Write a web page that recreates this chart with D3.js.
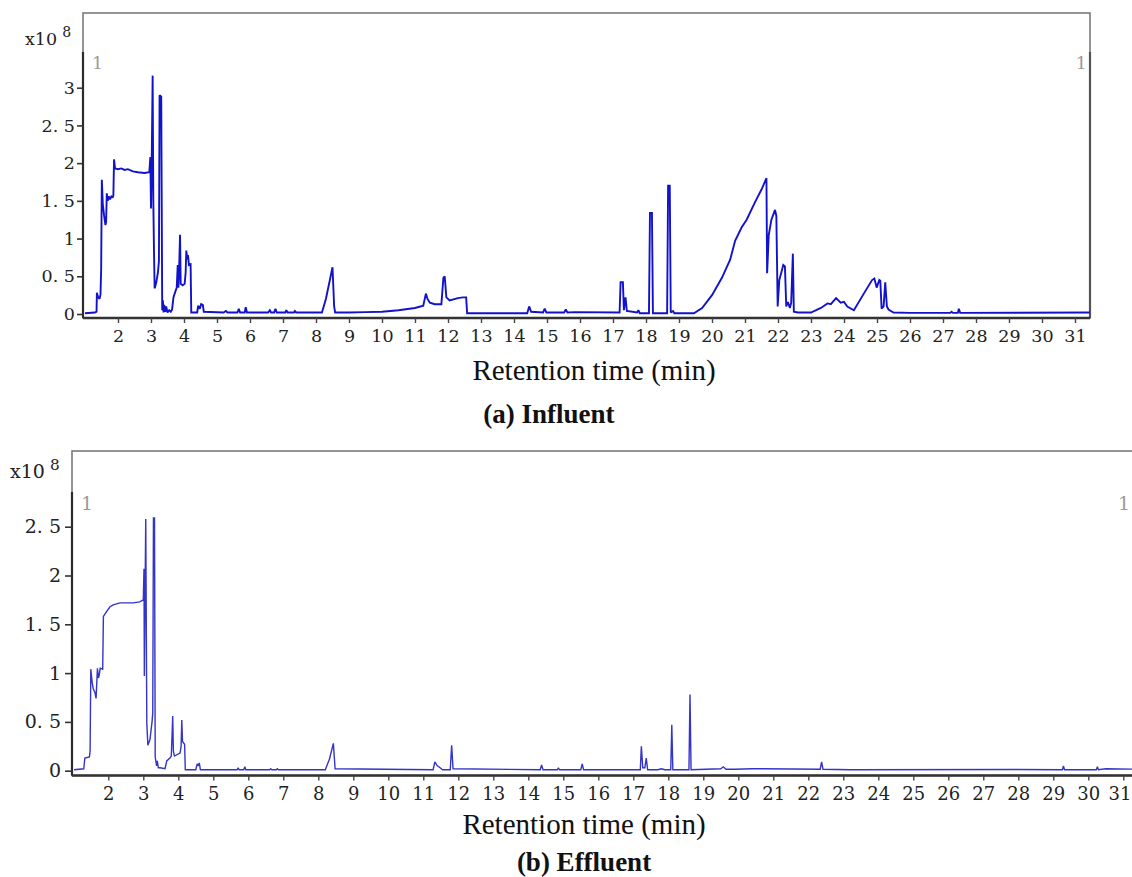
<!DOCTYPE html>
<html>
<head>
<meta charset="utf-8">
<script src="https://cdn.jsdelivr.net/npm/d3@7"></script>
<style>
  html, body { margin: 0; padding: 0; background: #fff; }
  svg { display: block; }
</style>
</head>
<body>
<svg id="chart" width="1132" height="877"></svg>
<script>
// Total ion chromatograms, abundance in units of 1e8, retention time in minutes.

const influentTime = [
  1.00, 1.30, 1.35, 1.36, 1.40, 1.44, 1.47, 1.49, 1.51, 1.54, 1.58, 1.62, 1.64, 1.66, 1.69, 1.72, 1.76, 1.80, 1.84, 1.86,
  1.88, 1.91, 2.00, 2.10, 2.20, 2.30, 2.45, 2.60, 2.80, 2.95, 2.98, 3.00, 3.02, 3.05, 3.07, 3.09, 3.11, 3.12, 3.16, 3.21,
  3.24, 3.26, 3.31, 3.34, 3.36, 3.38, 3.40, 3.43, 3.46, 3.50, 3.55, 3.60, 3.64, 3.68, 3.74, 3.78, 3.81, 3.83, 3.86, 3.88,
  3.90, 3.96, 4.02, 4.05, 4.07, 4.10, 4.12, 4.15, 4.20, 4.22, 4.40, 4.43, 4.48, 4.52, 4.57, 4.60, 5.20, 5.27, 5.32, 5.62,
  5.66, 5.70, 5.84, 5.87, 5.91, 6.55, 6.60, 6.64, 6.73, 6.77, 6.81, 7.07, 7.10, 7.14, 7.33, 7.36, 7.40, 8.18, 8.30, 8.42,
  8.50, 8.55, 8.58, 9.00, 9.50, 10.00, 10.50, 11.00, 11.25, 11.33, 11.38, 11.45, 11.60, 11.80, 11.86, 11.90, 11.95, 12.05, 12.30, 12.45,
  12.55, 12.58, 13.00, 14.40, 14.46, 14.52, 14.88, 14.93, 14.98, 15.52, 15.57, 15.62, 15.85, 17.20, 17.23, 17.30, 17.33, 17.38, 17.42, 17.73,
  17.77, 17.81, 18.09, 18.12, 18.18, 18.21, 18.64, 18.67, 18.72, 18.75, 18.82, 18.86, 19.45, 19.70, 20.00, 20.30, 20.55, 20.70, 20.90, 21.05,
  21.30, 21.50, 21.65, 21.67, 21.72, 21.80, 21.91, 21.95, 21.99, 22.04, 22.16, 22.21, 22.25, 22.30, 22.36, 22.40, 22.45, 22.48, 22.60, 23.00,
  23.30, 23.50, 23.60, 23.76, 23.90, 24.00, 24.10, 24.30, 24.60, 24.85, 24.92, 24.99, 25.07, 25.10, 25.14, 25.20, 25.25, 25.30, 25.35, 25.50,
  26.00, 27.22, 27.26, 27.30, 27.45, 27.48, 27.52, 31.45
];
const influentSignal = [
  0.01, 0.02, 0.03, 0.28, 0.22, 0.20, 0.26, 0.60, 1.78, 1.45, 1.30, 1.18, 1.22, 1.60, 1.50, 1.56, 1.52, 1.56, 1.55, 1.57,
  2.05, 1.93, 1.92, 1.93, 1.91, 1.92, 1.89, 1.88, 1.87, 1.88, 2.08, 1.40, 1.95, 3.16, 1.50, 0.85, 0.35, 0.35, 0.42, 0.55,
  0.70, 2.90, 2.88, 0.05, 0.18, 0.02, 0.12, 0.03, 0.10, 0.02, 0.05, 0.03, 0.06, 0.22, 0.30, 0.35, 0.65, 0.35, 0.72, 1.05,
  0.40, 0.38, 0.40, 0.55, 0.84, 0.72, 0.78, 0.65, 0.66, 0.02, 0.02, 0.11, 0.07, 0.13, 0.12, 0.03, 0.02, 0.04, 0.02, 0.02,
  0.07, 0.02, 0.02, 0.09, 0.02, 0.02, 0.05, 0.02, 0.02, 0.07, 0.02, 0.02, 0.05, 0.02, 0.02, 0.04, 0.02, 0.02, 0.20, 0.45,
  0.62, 0.10, 0.02, 0.02, 0.025, 0.03, 0.05, 0.08, 0.11, 0.27, 0.20, 0.15, 0.13, 0.13, 0.48, 0.50, 0.22, 0.18, 0.21, 0.22,
  0.22, 0.01, 0.01, 0.01, 0.10, 0.03, 0.02, 0.07, 0.02, 0.02, 0.06, 0.02, 0.025, 0.02, 0.42, 0.42, 0.05, 0.22, 0.04, 0.02,
  0.05, 0.01, 0.01, 1.34, 1.34, 0.01, 0.01, 1.70, 1.70, 0.02, 0.04, 0.01, 0.01, 0.08, 0.25, 0.48, 0.72, 0.97, 1.15, 1.25,
  1.48, 1.65, 1.80, 0.54, 1.05, 1.25, 1.38, 1.30, 0.10, 0.45, 0.65, 0.63, 0.10, 0.16, 0.08, 0.15, 0.80, 0.03, 0.02, 0.02,
  0.08, 0.14, 0.13, 0.21, 0.15, 0.16, 0.10, 0.05, 0.27, 0.45, 0.47, 0.35, 0.45, 0.44, 0.07, 0.10, 0.42, 0.10, 0.06, 0.02,
  0.015, 0.015, 0.03, 0.015, 0.015, 0.07, 0.015, 0.02
];

const effluentTime = [
  1.02, 1.30, 1.33, 1.46, 1.48, 1.50, 1.54, 1.57, 1.62, 1.65, 1.69, 1.72, 1.74, 1.77, 1.84, 1.86, 1.95, 2.05, 2.14, 2.33,
  2.50, 2.71, 2.90, 3.00, 3.02, 3.03, 3.05, 3.07, 3.10, 3.13, 3.19, 3.25, 3.27, 3.29, 3.32, 3.34, 3.38, 3.40, 3.43, 3.48,
  3.62, 3.67, 3.76, 3.80, 3.83, 3.84, 3.86, 3.89, 4.05, 4.08, 4.10, 4.12, 4.18, 4.20, 4.50, 4.54, 4.57, 4.60, 4.63, 5.68,
  5.71, 5.74, 5.87, 5.90, 5.93, 6.61, 6.64, 6.67, 6.80, 6.83, 6.86, 8.20, 8.32, 8.43, 8.48, 11.28, 11.33, 11.40, 11.48, 11.55,
  11.77, 11.81, 11.85, 14.34, 14.38, 14.42, 14.83, 14.86, 14.89, 15.50, 15.54, 15.58, 17.20, 17.23, 17.27, 17.33, 17.37, 17.41, 17.70, 17.80,
  17.90, 18.07, 18.10, 18.13, 18.59, 18.62, 18.65, 19.50, 19.57, 19.65, 19.90, 20.40, 20.60, 22.34, 22.38, 22.42, 23.20, 27.90, 29.26, 29.29,
  29.32, 30.23, 30.26, 30.29, 30.50, 31.60
];
const effluentSignal = [
  0.01, 0.02, 0.13, 0.14, 0.20, 1.04, 0.90, 0.84, 0.80, 0.74, 1.05, 0.95, 0.98, 1.05, 1.04, 1.58, 1.63, 1.68, 1.70, 1.72,
  1.72, 1.72, 1.73, 1.75, 2.07, 0.97, 1.80, 2.58, 0.49, 0.26, 0.32, 0.50, 0.59, 2.59, 2.59, 0.14, 0.05, 0.10, 0.03, 0.03,
  0.02, 0.10, 0.13, 0.15, 0.45, 0.56, 0.20, 0.15, 0.18, 0.25, 0.52, 0.30, 0.27, 0.01, 0.01, 0.07, 0.05, 0.08, 0.01, 0.01,
  0.03, 0.01, 0.01, 0.04, 0.01, 0.01, 0.02, 0.01, 0.01, 0.02, 0.01, 0.01, 0.12, 0.28, 0.02, 0.01, 0.09, 0.05, 0.03, 0.01,
  0.01, 0.26, 0.02, 0.01, 0.06, 0.01, 0.01, 0.03, 0.01, 0.01, 0.07, 0.01, 0.01, 0.25, 0.03, 0.03, 0.13, 0.01, 0.01, 0.02,
  0.01, 0.01, 0.47, 0.01, 0.01, 0.78, 0.01, 0.02, 0.04, 0.015, 0.015, 0.02, 0.02, 0.015, 0.09, 0.015, 0.01, 0.012, 0.01, 0.05,
  0.01, 0.01, 0.04, 0.01, 0.02, 0.015
];

const timeTicks = d3.range(2, 32);                    // 2 … 31 min
const influentAbundanceTicks = [0, 0.5, 1, 1.5, 2, 2.5, 3];
const effluentAbundanceTicks = [0, 0.5, 1, 1.5, 2, 2.5];
const axisTitle = "Retention time (min)";
const panelTitles = ["(a) Influent", "(b) Effluent"];

// Abundance labels keep the instrument's "2. 5" style spacing.
const fmtAbundance = v => Number.isInteger(v) ? String(v) : v.toFixed(1).replace(".", ". ");

const W = 1132;
const svg = d3.select("#chart");

const panels = [
  {
    id: "inf", time: influentTime, signal: influentSignal, yTicks: influentAbundanceTicks,
    frame: { left: 83, top: 13, right: 1090, axis: 318, darkFrom: 52 },
    x: d3.scaleLinear().domain([2, 31]).range([118, 1075]),
    y: d3.scaleLinear().domain([0, 3]).range([314, 87.7]),
    lineColor: "#1212cc", lineWidth: 1.9, yFont: 17.5, xFont: 17.5, yTick: 6, yPad: 2,
    expo: { x: 25, y: 45 }, mark: { y: 69 },
    title: { x: 594, y: 380 }, caption: { x: 549, y: 423 }, titleText: panelTitles[0]
  },
  {
    id: "eff", time: effluentTime, signal: effluentSignal, yTicks: effluentAbundanceTicks,
    frame: { left: 72, top: 451, right: 1138, axis: 775.5, darkFrom: 492 },
    x: d3.scaleLinear().domain([2, 31]).range([108.3, 1123.3]),
    y: d3.scaleLinear().domain([0, 2.5]).range([770.7, 526.7]),
    lineColor: "#3434c8", lineWidth: 1.4, yFont: 19, xFont: 18, yTick: 7, yPad: 4,
    expo: { x: 10, y: 478 }, mark: { y: 510 },
    title: { x: 584, y: 834 }, caption: { x: 584, y: 871 }, titleText: panelTitles[1]
  }
];

panels.forEach(p => {
  const f = p.frame;
  const g = svg.append("g").attr("class", "panel-" + p.id);

  // clip region for the trace
  svg.append("clipPath").attr("id", "clip-" + p.id)
    .append("rect")
    .attr("x", f.left).attr("y", f.top)
    .attr("width", f.right - f.left).attr("height", f.axis - f.top);

  // light outer frame
  g.append("rect")
    .attr("x", f.left).attr("y", f.top)
    .attr("width", f.right - f.left).attr("height", f.axis - f.top)
    .attr("fill", "none").attr("stroke", "#7a7a7a").attr("stroke-width", 1.6);

  // dark axis segments (left and right) over the scale range
  g.append("line")
    .attr("x1", f.left).attr("x2", f.left).attr("y1", f.darkFrom).attr("y2", f.axis)
    .attr("stroke", "#2b2b2b").attr("stroke-width", 2.2);
  g.append("line")
    .attr("x1", f.right).attr("x2", f.right).attr("y1", f.darkFrom).attr("y2", f.axis)
    .attr("stroke", "#555").attr("stroke-width", 2.2);
  g.append("line")
    .attr("x1", f.left).attr("x2", f.right).attr("y1", f.axis).attr("y2", f.axis)
    .attr("stroke", "#333").attr("stroke-width", 2.4);

  // trace
  const pts = p.time.map((t, i) => [t, p.signal[i]]);
  const line = d3.line().x(d => p.x(d[0])).y(d => p.y(d[1]));
  g.append("path")
    .datum(pts)
    .attr("clip-path", "url(#clip-" + p.id + ")")
    .attr("d", line)
    .attr("fill", "none")
    .attr("stroke", p.lineColor)
    .attr("stroke-width", p.lineWidth)
    .attr("stroke-linejoin", "miter")
    .attr("stroke-miterlimit", 2);

  // y axis
  const yAxis = d3.axisLeft(p.y).tickValues(p.yTicks).tickFormat(fmtAbundance)
    .tickSize(p.yTick).tickPadding(p.yPad);
  const ya = g.append("g").attr("transform", `translate(${f.left},0)`).call(yAxis);
  ya.select(".domain").remove();
  ya.selectAll(".tick line").attr("stroke", "#333").attr("stroke-width", 1.6);
  ya.selectAll(".tick text")
    .attr("font-family", "'DejaVu Serif', serif").attr("font-size", p.yFont).attr("fill", "#222");

  // x axis
  const xAxis = d3.axisBottom(p.x).tickValues(timeTicks).tickFormat(d3.format("d"))
    .tickSize(5).tickPadding(7);
  const xa = g.append("g").attr("transform", `translate(0,${f.axis})`).call(xAxis);
  xa.select(".domain").remove();
  xa.selectAll(".tick line").attr("stroke", "#444").attr("stroke-width", 1.4);
  xa.selectAll(".tick text")
    .attr("font-family", "'DejaVu Serif', serif").attr("font-size", p.xFont).attr("fill", "#222")
    .each(function (d) {
      // keep labels near the page edge fully inside it
      const half = this.getComputedTextLength() / 2;
      const over = p.x(d) + half - (W - 1);
      if (over > 0) d3.select(this).attr("dx", -over);
    });

  // exponent label
  const ex = g.append("text")
    .attr("x", p.expo.x).attr("y", p.expo.y)
    .attr("font-family", "'DejaVu Serif', serif").attr("font-size", p.yFont).attr("fill", "#222");
  ex.append("tspan").text("x10");
  ex.append("tspan").attr("dx", 5).attr("dy", -8).attr("font-size", p.yFont * 0.8).text("8");

  // trace number markers
  g.append("text").attr("x", f.left + 9).attr("y", p.mark.y)
    .attr("font-family", "'DejaVu Serif', serif").attr("font-size", p.yFont).attr("fill", "#9a9a9a").text("1");
  g.append("text").attr("x", Math.min(f.right - 3, W - 2)).attr("y", p.mark.y).attr("text-anchor", "end")
    .attr("font-family", "'DejaVu Serif', serif").attr("font-size", p.yFont).attr("fill", "#9a9a9a").text("1");

  // axis title and caption
  g.append("text").attr("x", p.title.x).attr("y", p.title.y).attr("text-anchor", "middle")
    .attr("font-family", "'Liberation Serif', 'Times New Roman', serif").attr("font-size", 29).attr("fill", "#111")
    .text(axisTitle);
  g.append("text").attr("x", p.caption.x).attr("y", p.caption.y).attr("text-anchor", "middle")
    .attr("font-family", "'Liberation Serif', 'Times New Roman', serif").attr("font-size", 27)
    .attr("font-weight", "bold").attr("fill", "#111")
    .text(p.titleText);
});
</script>
</body>
</html>
